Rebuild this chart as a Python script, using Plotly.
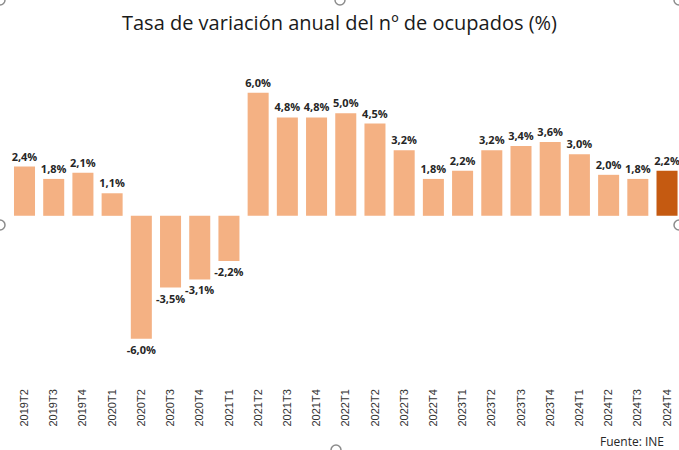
import plotly.graph_objects as go

categories = ["2019T2", "2019T3", "2019T4", "2020T1", "2020T2", "2020T3", "2020T4",
              "2021T1", "2021T2", "2021T3", "2021T4", "2022T1", "2022T2", "2022T3",
              "2022T4", "2023T1", "2023T2", "2023T3", "2023T4", "2024T1", "2024T2",
              "2024T3", "2024T4"]
values = [2.4, 1.8, 2.1, 1.1, -6.0, -3.5, -3.1, -2.2, 6.0, 4.8, 4.8, 5.0, 4.5, 3.2,
          1.8, 2.2, 3.2, 3.4, 3.6, 3.0, 2.0, 1.8, 2.2]

LIGHT = "#F4B183"
DARK = "#C55A11"
colors = [LIGHT] * (len(values) - 1) + [DARK]

W, H = 679, 450
T, B = 60, 64
PH = H - T - B

fig = go.Figure(go.Bar(
    x=list(range(len(categories))),
    y=values,
    marker=dict(color=colors, line=dict(width=0)),
    texttemplate="%{y:.1f}%",
    textposition="outside",
    constraintext="none",
    textfont=dict(family="Open Sans", size=11, color="#262626", weight="bold"),
    cliponaxis=False,
))

fig.update_layout(
    width=W, height=H,
    margin=dict(l=0, r=0, t=T, b=B),
    paper_bgcolor="white", plot_bgcolor="white",
    separators=",.",
    bargap=0.28,
    showlegend=False,
    title=dict(text="Tasa de variación anual del nº de ocupados (%)",
               x=0.5, xanchor="center", y=1 - 23 / H, yanchor="middle",
               font=dict(family="Open Sans", size=20, color="#1a1a1a")),
    xaxis=dict(range=[-0.839, 22.41], tickmode="array",
               tickvals=list(range(len(categories))), ticktext=categories,
               tickangle=-90, showgrid=False, zeroline=False, showline=False,
               ticks="", ticklen=0,
               tickfont=dict(family="Liberation Sans", size=11, color="#333333")),
    yaxis=dict(range=[-8.3, 7.6], visible=False, showgrid=False, zeroline=False),
    font=dict(family="Open Sans"),
)

fig.add_annotation(text="Fuente: INE", xref="paper", yref="paper",
                   x=666 / W, y=-(441 - (T + PH)) / PH, xanchor="right", yanchor="middle",
                   showarrow=False,
                   font=dict(family="Open Sans", size=12, color="#262626"))

# selection handles drawn at the chart frame
def py(Y):
    return (T + PH - Y) / PH

for hx, hy in [(0, 0), (340, 0), (679, 0), (0, 225), (679, 225), (336, 450)]:
    fig.add_shape(type="circle", xref="paper", yref="paper",
                  xsizemode="pixel", ysizemode="pixel",
                  xanchor=hx / W, yanchor=py(hy),
                  x0=-5, x1=5, y0=-5, y1=5,
                  line=dict(color="#8c8c8c", width=1.5), fillcolor="white")

fig.write_html("out.html", config={"displayModeBar": False},
               post_script="document.body.style.margin='0';document.body.style.overflow='hidden';")
